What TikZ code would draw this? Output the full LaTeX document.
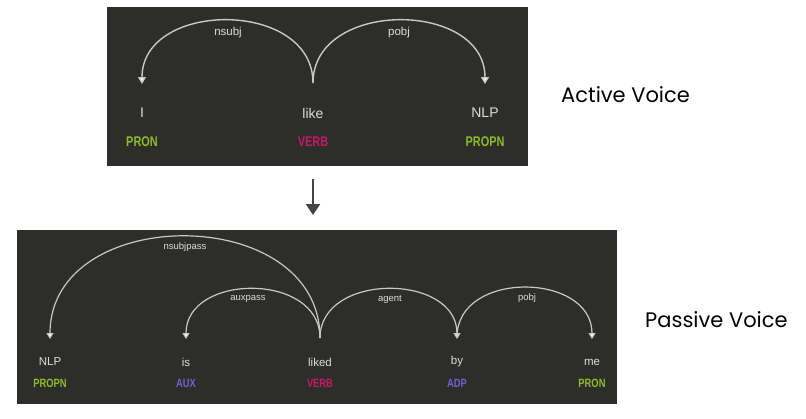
\documentclass[tikz,border=0pt]{standalone}
\usepackage{fontspec}
\setmainfont{Liberation Sans}
\newfontfamily\titlefont{Poppins}
\newfontfamily\posfont[FakeStretch=0.78]{Liberation Sans}
\usetikzlibrary{arrows.meta}
\definecolor{bgdark}{HTML}{2D2D29}
\definecolor{wordcol}{HTML}{DCDCDC}
\definecolor{arccol}{HTML}{C8C8C8}
\definecolor{pgreen}{HTML}{8CBF26}
\definecolor{pverb}{HTML}{C8186A}
\definecolor{ppurple}{HTML}{7060D8}
\definecolor{darrow}{HTML}{444444}
\tikzset{
  panel/.style={fill=bgdark, draw=none},
  wordA/.style={text=wordcol, font=\fontsize{14}{16}\selectfont, inner sep=0pt},
  posA/.style={font=\posfont\bfseries\fontsize{14}{16}\selectfont, inner sep=0pt},
  labA/.style={text=wordcol, font=\fontsize{11.5}{13}\selectfont, inner sep=0pt},
  wordB/.style={text=wordcol, font=\fontsize{11.5}{13}\selectfont, inner sep=0pt},
  posB/.style={font=\posfont\bfseries\fontsize{12}{14}\selectfont, inner sep=0pt},
  labB/.style={text=wordcol, font=\fontsize{9.5}{11}\selectfont, inner sep=0pt},
  deparc/.style={draw=arccol, line width=1.4pt, -{Triangle[width=8pt,length=7pt,fill=white]}},
  deparcB/.style={draw=arccol, line width=1.2pt, -{Triangle[width=7pt,length=6pt,fill=white]}},
  title/.style={font=\titlefont\fontsize{21}{24}\selectfont, text=black, anchor=west, inner sep=0pt},
  flow/.style={draw=darrow, line width=2pt, -{Triangle[width=14pt,length=11pt]}}
}
\begin{document}
\begin{tikzpicture}[x=1pt,y=-1pt]
\useasboundingbox (0,0) rectangle (806,418);
\fill[white] (0,0) rectangle (806,418);
% ---------- Active voice panel ----------
\path[panel] (107,7) rectangle (528,166);
\node[wordA] (wI) at (142,113) {I};
\node[wordA] (wlike) at (313,113) {like};
\node[wordA] (wNLP) at (485,113) {NLP};
\node[posA, text=pgreen] (pI) at (142,142) {PRON};
\node[posA, text=pverb] (plike) at (313,142) {VERB};
\node[posA, text=pgreen] (pNLP) at (485,142) {PROPN};
\coordinate (aLike) at (313,83);
\coordinate (aI) at (142,84);
\coordinate (aNLP) at (485,84);
\draw[deparc] (aLike) .. controls +(0,-84) and +(0,-84) .. (aI);
\draw[deparc] (aLike) .. controls +(0,-84) and +(0,-84) .. (aNLP);
\node[labA] (lnsubj) at (228,33) {nsubj};
\node[labA] (lpobjA) at (399,33) {pobj};
\node[title] (tActive) at (561,95) {Active Voice};
% ---------- transformation arrow ----------
\coordinate (fTop) at (313,179);
\coordinate (fBot) at (313,215);
\draw[flow] (fTop) -- (fBot);
% ---------- Passive voice panel ----------
\path[panel] (17,230) rectangle (617,404);
\node[wordB] (bNLP) at (50,362) {NLP};
\node[wordB] (bis) at (186,362) {is};
\node[wordB] (bliked) at (320,362) {liked};
\node[wordB] (bby) at (457,362) {by};
\node[wordB] (bme) at (592,362) {me};
\node[posB, text=pgreen] (qNLP) at (50,383) {PROPN};
\node[posB, text=ppurple] (qis) at (186,383) {AUX};
\node[posB, text=pverb] (qliked) at (320,383) {VERB};
\node[posB, text=ppurple] (qby) at (457,383) {ADP};
\node[posB, text=pgreen] (qme) at (592,383) {PRON};
\coordinate (cLiked) at (320,338);
\coordinate (cNLP) at (50,339);
\coordinate (cIs) at (186,339);
\coordinate (cBy) at (457,339);
\coordinate (cByS) at (457,337);
\coordinate (cMe) at (592,339);
\draw[deparcB] (cLiked) .. controls +(0,-136) and +(0,-136) .. (cNLP);
\draw[deparcB] (cLiked) .. controls +(0,-66) and +(0,-66) .. (cIs);
\draw[deparcB] (cLiked) .. controls +(0,-66) and +(0,-66) .. (cBy);
\draw[deparcB] (cByS) .. controls +(0,-67) and +(0,-67) .. (cMe);
\node[labB] (lnsp) at (185,247) {nsubjpass};
\node[labB] (laux) at (248,299) {auxpass};
\node[labB] (lagent) at (390,299) {agent};
\node[labB] (lpobjB) at (527,298) {pobj};
\node[title] (tPassive) at (645,320) {Passive Voice};
\end{tikzpicture}
\end{document}
